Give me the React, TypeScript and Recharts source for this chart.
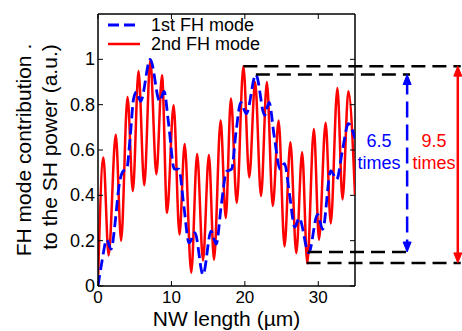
import React from 'react';
import { LineChart, Line, XAxis, YAxis, ReferenceLine, ReferenceDot, Legend } from 'recharts';

const FONT = '"Liberation Sans", Arial, Helvetica, sans-serif';

// ---- data ----
const seriesNames = ['1st FH mode', '2nd FH mode'];

const mode1X = [0, 0.5, 1.19, 1.78, 2.4, 2.8, 3.47, 3.9, 4.4, 4.85, 5.25, 5.8, 7.12, 8.4, 9.0, 9.6, 10.4, 11.0, 11.7, 12.4, 13.2, 14.3, 15.4, 16.1, 16.8, 17.5, 18.2, 18.8, 19.45, 20.2, 21.5, 22.7, 23.3, 24.0, 24.8, 25.4, 26.1, 26.8, 27.4, 28.7, 29.9, 30.6, 31.7, 32.5, 33.3, 34.1, 35];
const mode1Y = [0, 0.1, 0.204, 0.163, 0.3, 0.427, 0.508, 0.515, 0.664, 0.827, 0.856, 0.815, 1.0, 0.815, 0.858, 0.72, 0.516, 0.516, 0.35, 0.19, 0.235, 0.05, 0.242, 0.185, 0.36, 0.505, 0.516, 0.68, 0.81, 0.76, 0.933, 0.753, 0.81, 0.66, 0.516, 0.54, 0.4, 0.26, 0.3, 0.146, 0.316, 0.25, 0.508, 0.47, 0.6, 0.716, 0.65];

const mode2X = [0, 0.73, 1.45, 2.42, 3.15, 4.02, 4.75, 5.52, 6.3, 7.12, 7.95, 8.72, 9.4, 10.3, 11.1, 11.8, 12.7, 13.5, 14.3, 15.1, 15.8, 16.7, 17.4, 18.1, 18.9, 19.8, 20.6, 21.4, 22.2, 23.0, 23.8, 24.6, 25.4, 26.2, 27.0, 27.8, 28.5, 29.4, 30.1, 31.0, 31.7, 32.6, 33.3, 34.1, 35];
const mode2Y = [0.02, 0.567, 0.135, 0.667, 0.2, 0.834, 0.419, 0.948, 0.444, 0.997, 0.493, 0.93, 0.323, 0.797, 0.227, 0.627, 0.059, 0.582, 0.113, 0.578, 0.116, 0.73, 0.3, 0.827, 0.367, 0.97, 0.479, 0.9, 0.397, 0.9, 0.353, 0.73, 0.175, 0.634, 0.145, 0.59, 0.1, 0.693, 0.204, 0.72, 0.276, 0.874, 0.382, 0.859, 0.4];

const xTicks = [0, 10, 20, 30];
const yTicks = [0, 0.2, 0.4, 0.6, 0.8, 1];

// annotation levels (in data units)
const redMax = 0.97;
const redMin = 0.102;
const blueMax = 0.933;
const blueMin = 0.15;
const redMaxAt = 19.8;
const blueMaxAt = 21.5;
const redMinAt = 28.4;
const blueMinAt = 28.6;
const blueLineEnd = 42.5;
const redLineEnd = 49.4;
const blueArrowAt = 42.1;
const redArrowAt = 49.0;
const blueTextAt = 38.27;
const redTextAt = 45.76;
const textLevel = 0.592;
const blueLabel = ['6.5', 'times'];
const redLabel = ['9.5', 'times'];

const mode1 = mode1X.map((x, i) => ({ x, y: mode1Y[i] }));
const mode2 = mode2X.map((x, i) => ({ x, y: mode2Y[i] }));

// ---- layout ----
const W = 462;
const H = 331;
const M = { top: 14, right: 107, bottom: 15, left: 38 };
const Y_AXIS_W = 60;
const X_AXIS_H = 30;
const PLOT_TOP = M.top;
const PLOT_RIGHT = W - M.right;
const TICK = 5;
const TICK_FS = 17;
const TITLE_FS = 21;
const NOTE_FS = 18;

const XTick = (props: any) => {
  const { x, y, payload } = props;
  return (
    <g>
      <line x1={x} y1={y} x2={x} y2={y - TICK} stroke="#000" strokeWidth={1} />
      <line x1={x} y1={PLOT_TOP} x2={x} y2={PLOT_TOP + TICK} stroke="#000" strokeWidth={1} />
      <text x={x} y={y + 17} textAnchor="middle" fontSize={TICK_FS} fontFamily={FONT} fill="#000">
        {payload.value}
      </text>
    </g>
  );
};

const YTick = (props: any) => {
  const { x, y, payload } = props;
  return (
    <g>
      <line x1={x} y1={y} x2={x + TICK} y2={y} stroke="#000" strokeWidth={1} />
      <line x1={PLOT_RIGHT} y1={y} x2={PLOT_RIGHT - TICK} y2={y} stroke="#000" strokeWidth={1} />
      <text x={x - 3} y={y + 6} textAnchor="end" fontSize={18} fontFamily={FONT} fill="#000">
        {payload.value}
      </text>
    </g>
  );
};

const YTitle = (props: any) => {
  const vb = props.viewBox || { x: M.left, y: M.top, width: Y_AXIS_W, height: 272 };
  const cy = vb.y + vb.height / 2;
  const x1 = vb.x - 7;
  const x2 = vb.x + 19;
  return (
    <g fontFamily={FONT} fontSize={21} fill="#000">
      <text x={x1} y={cy} textAnchor="middle" transform={`rotate(-90, ${x1}, ${cy})`}>
        FH mode contribution .
      </text>
      <text x={x2} y={cy - 3} textAnchor="middle" transform={`rotate(-90, ${x2}, ${cy - 3})`}>
        to the SH power (a.u.)
      </text>
    </g>
  );
};

const XTitle = (props: any) => {
  const vb = props.viewBox || { x: 98, y: 286, width: 257, height: 30 };
  return (
    <text x={vb.x + vb.width / 2} y={vb.y + 40} textAnchor="middle" fontFamily={FONT} fontSize={TITLE_FS} fill="#000">
      NW length (µm)
    </text>
  );
};

const arrowShape = (color: string, dash?: string) => (p: any) => {
  const x = p.x1;
  const top = Math.min(p.y1, p.y2);
  const bot = Math.max(p.y1, p.y2);
  const hl = 10;
  const hw = 4;
  return (
    <g>
      <line x1={x} y1={top + 4} x2={x} y2={bot - 4} stroke={color} strokeWidth={2.5} strokeDasharray={dash} />
      <path d={`M${x - hw},${top + hl} L${x},${top} L${x + hw},${top + hl} Z`} fill={color} stroke={color} strokeWidth={1} />
      <path d={`M${x - hw},${bot - hl} L${x},${bot} L${x + hw},${bot - hl} Z`} fill={color} stroke={color} strokeWidth={1} />
    </g>
  );
};

const textShape = (color: string, lines: string[]) => (p: any) => (
  <text x={p.cx} y={p.cy} textAnchor="middle" fontFamily={FONT} fontSize={NOTE_FS} fill={color}>
    <tspan x={p.cx} y={p.cy - 5}>{lines[0]}</tspan>
    <tspan x={p.cx} y={p.cy + 17}>{lines[1]}</tspan>
  </text>
);

const LegendBox = () => (
  <svg width={210} height={44} style={{ display: 'block' }}>
    <line x1={8} y1={11} x2={40} y2={11} stroke="#0000ff" strokeWidth={2.8} strokeDasharray="11 5" />
    <text x={51} y={17} fontFamily={FONT} fontSize={18} fill="#000">{seriesNames[0]}</text>
    <line x1={8} y1={30} x2={40} y2={30} stroke="#ff0000" strokeWidth={2.5} />
    <text x={51} y={36} fontFamily={FONT} fontSize={18} fill="#000">{seriesNames[1]}</text>
  </svg>
);

const BLACK_DASH = '14 7';

export default function App() {
  return (
    <div style={{ position: 'absolute', left: 0, top: 0, width: W, height: H, background: '#fff', fontFamily: FONT }}>
      <LineChart width={W} height={H} margin={M}>
        <XAxis
          dataKey="x"
          type="number"
          domain={[0, 35]}
          ticks={xTicks}
          allowDataOverflow
          height={X_AXIS_H}
          tickSize={0}
          tickMargin={0}
          tickLine={false}
          tick={<XTick />}
          axisLine={{ stroke: '#000', strokeWidth: 1.5 }}
          label={<XTitle />}
        />
        <YAxis
          type="number"
          domain={[0, 1.2]}
          ticks={yTicks}
          allowDataOverflow
          width={Y_AXIS_W}
          tickSize={0}
          tickMargin={0}
          tickLine={false}
          tick={<YTick />}
          axisLine={{ stroke: '#000', strokeWidth: 1.5 }}
          label={<YTitle />}
        />
        <ReferenceLine y={1.2} stroke="#000" strokeWidth={1.5} ifOverflow="visible" />
        <ReferenceLine x={35} stroke="#000" strokeWidth={1.5} ifOverflow="visible" />

        <Line data={mode2} dataKey="y" name={seriesNames[1]} type="monotone" stroke="#ff0000" strokeWidth={2.5} dot={false} activeDot={false} isAnimationActive={false} />
        <Line data={mode1} dataKey="y" name={seriesNames[0]} type="monotone" stroke="#0000ff" strokeWidth={2.8} strokeDasharray="11 5" dot={false} activeDot={false} isAnimationActive={false} />

        <ReferenceLine segment={[{ x: redMaxAt, y: redMax }, { x: redLineEnd, y: redMax }]} stroke="#000" strokeWidth={2.5} strokeDasharray={BLACK_DASH} ifOverflow="visible" />
        <ReferenceLine segment={[{ x: blueMaxAt, y: blueMax }, { x: blueLineEnd, y: blueMax }]} stroke="#000" strokeWidth={2.5} strokeDasharray={BLACK_DASH} ifOverflow="visible" />
        <ReferenceLine segment={[{ x: blueMinAt, y: blueMin }, { x: blueLineEnd, y: blueMin }]} stroke="#000" strokeWidth={2.5} strokeDasharray={BLACK_DASH} ifOverflow="visible" />
        <ReferenceLine segment={[{ x: redMinAt, y: redMin }, { x: redLineEnd, y: redMin }]} stroke="#000" strokeWidth={2.5} strokeDasharray={BLACK_DASH} ifOverflow="visible" />

        <ReferenceLine segment={[{ x: blueArrowAt, y: blueMax }, { x: blueArrowAt, y: blueMin }]} ifOverflow="visible" shape={arrowShape('#0000ff', '16 7')} />
        <ReferenceLine segment={[{ x: redArrowAt, y: redMax }, { x: redArrowAt, y: redMin }]} ifOverflow="visible" shape={arrowShape('#ff0000')} />

        <ReferenceDot x={blueTextAt} y={textLevel} r={0} ifOverflow="visible" shape={textShape('#0000ff', blueLabel)} />
        <ReferenceDot x={redTextAt} y={textLevel} r={0} ifOverflow="visible" shape={textShape('#ff0000', redLabel)} />

        <Legend
          layout="horizontal"
          verticalAlign="middle"
          align="center"
          wrapperStyle={{ position: 'absolute', left: 100, top: 14, width: 210, height: 44 }}
          content={() => <LegendBox />}
        />
      </LineChart>
    </div>
  );
}
